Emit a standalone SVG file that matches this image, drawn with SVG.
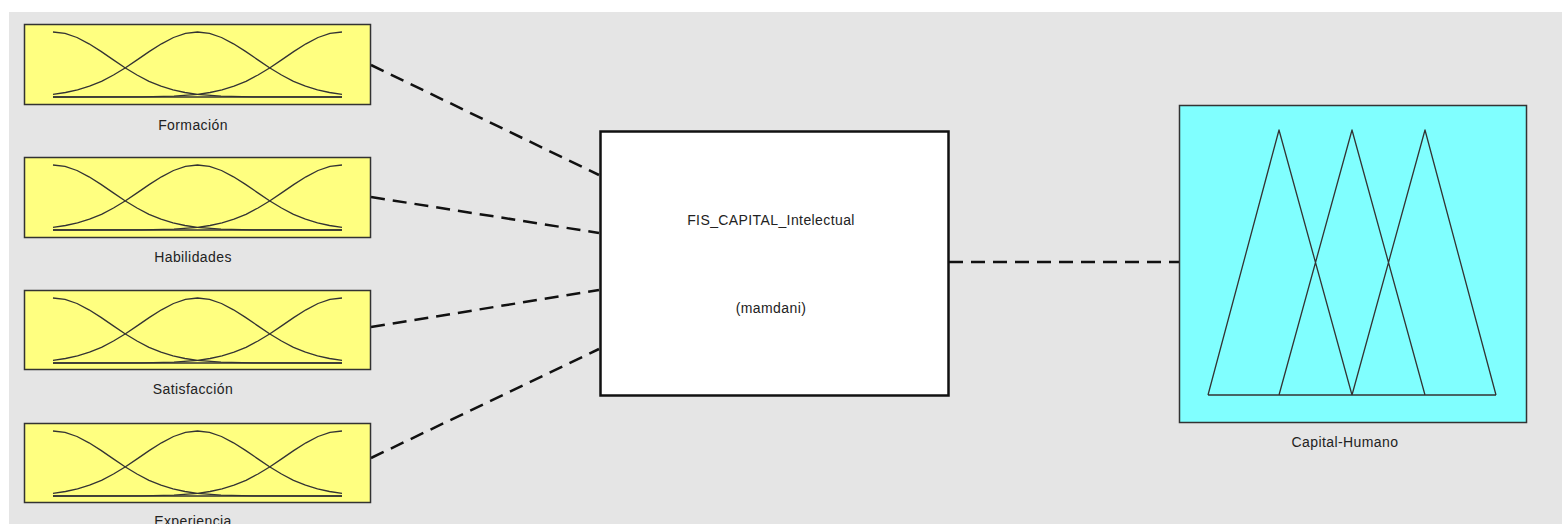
<svg xmlns="http://www.w3.org/2000/svg" xmlns:xlink="http://www.w3.org/1999/xlink" width="1562" height="524" viewBox="0 0 1562 524">
<style>
.bg{fill:#e5e5e5}
.in{fill:#ffff80;stroke:#333;stroke-width:1.5}
.out{fill:#80ffff;stroke:#333;stroke-width:1.5}
.fis{fill:#fff;stroke:#111;stroke-width:2.5}
.mf{fill:none;stroke:#333;stroke-width:1.3;stroke-linejoin:round}
.conn{stroke:#111;stroke-width:2.5;stroke-dasharray:14 8;fill:none}
.lbl{font-family:"Liberation Sans",Arial,sans-serif;font-size:14px;letter-spacing:0.4px;fill:#222;text-anchor:middle}
</style>
<defs>
<g id="gauss">
<path class="mf" d="M53,32 L65,33.4 77,37.5 89,43.8 101,51.4 113,59.6 125,67.7 137,75 149,81.3 161,86.2 173,89.9 185,92.5 197.5,94.4 221,96.2 253,96.9 342,97"/>
<path class="mf" d="M53,94.4 L65.5,92.5 77.5,89.9 89.5,86.2 101.5,81.3 113.5,75 125.5,67.7 137.5,59.6 149.5,51.4 161.5,43.8 173.5,37.5 185.5,33.4 197.5,32 209.5,33.4 221.5,37.5 233.5,43.8 245.5,51.4 257.5,59.6 269.5,67.7 281.5,75 293.5,81.3 305.5,86.2 317.5,89.9 329.5,92.5 342,94.4"/>
<path class="mf" d="M342,32 L330,33.4 318,37.5 306,43.8 294,51.4 282,59.6 270,67.7 258,75 246,81.3 234,86.2 222,89.9 210,92.5 197.5,94.4 174,96.2 142,96.9 53,97"/>
<path class="mf" d="M53,97 H342"/>
</g>
</defs>
<rect x="0" y="0" width="1562" height="524" fill="#fff"/>
<rect class="bg" x="9" y="12" width="1553" height="512"/>
<g id="connectors">
<line class="conn" x1="371" y1="65" x2="599" y2="175"/>
<line class="conn" x1="371" y1="197" x2="599" y2="233"/>
<line class="conn" x1="371" y1="327" x2="599" y2="290"/>
<line class="conn" x1="371" y1="458" x2="599" y2="349"/>
<line class="conn" x1="949" y1="262" x2="1179" y2="262"/>
</g>
<g id="formacion">
<rect class="in" x="24.5" y="24.5" width="346" height="80"/>
<use xlink:href="#gauss"/>
<text class="lbl" x="193" y="130">Formación</text>
</g>
<g id="habilidades">
<rect class="in" x="24.5" y="157.5" width="346" height="80"/>
<use xlink:href="#gauss" y="133"/>
<text class="lbl" x="193" y="262">Habilidades</text>
</g>
<g id="satisfaccion">
<rect class="in" x="24.5" y="290.5" width="346" height="79"/>
<use xlink:href="#gauss" y="266"/>
<text class="lbl" x="193" y="394">Satisfacción</text>
</g>
<g id="experiencia">
<rect class="in" x="24.5" y="423.5" width="346" height="79"/>
<use xlink:href="#gauss" y="399"/>
<text class="lbl" x="193" y="526">Experiencia</text>
</g>
<g id="fis">
<rect class="fis" x="600.5" y="131.5" width="348" height="264"/>
<text class="lbl" x="771" y="225">FIS_CAPITAL_Intelectual</text>
<text class="lbl" x="771" y="313">(mamdani)</text>
</g>
<g id="capital-humano">
<rect class="out" x="1179.5" y="105.5" width="347" height="317"/>
<path class="mf" d="M1208,395 L1279,130 1352,395 M1279,395 L1352,130 1425,395 M1352,395 L1425,130 1496,395 M1208,395 H1496"/>
<text class="lbl" x="1345" y="447">Capital-Humano</text>
</g>
</svg>
